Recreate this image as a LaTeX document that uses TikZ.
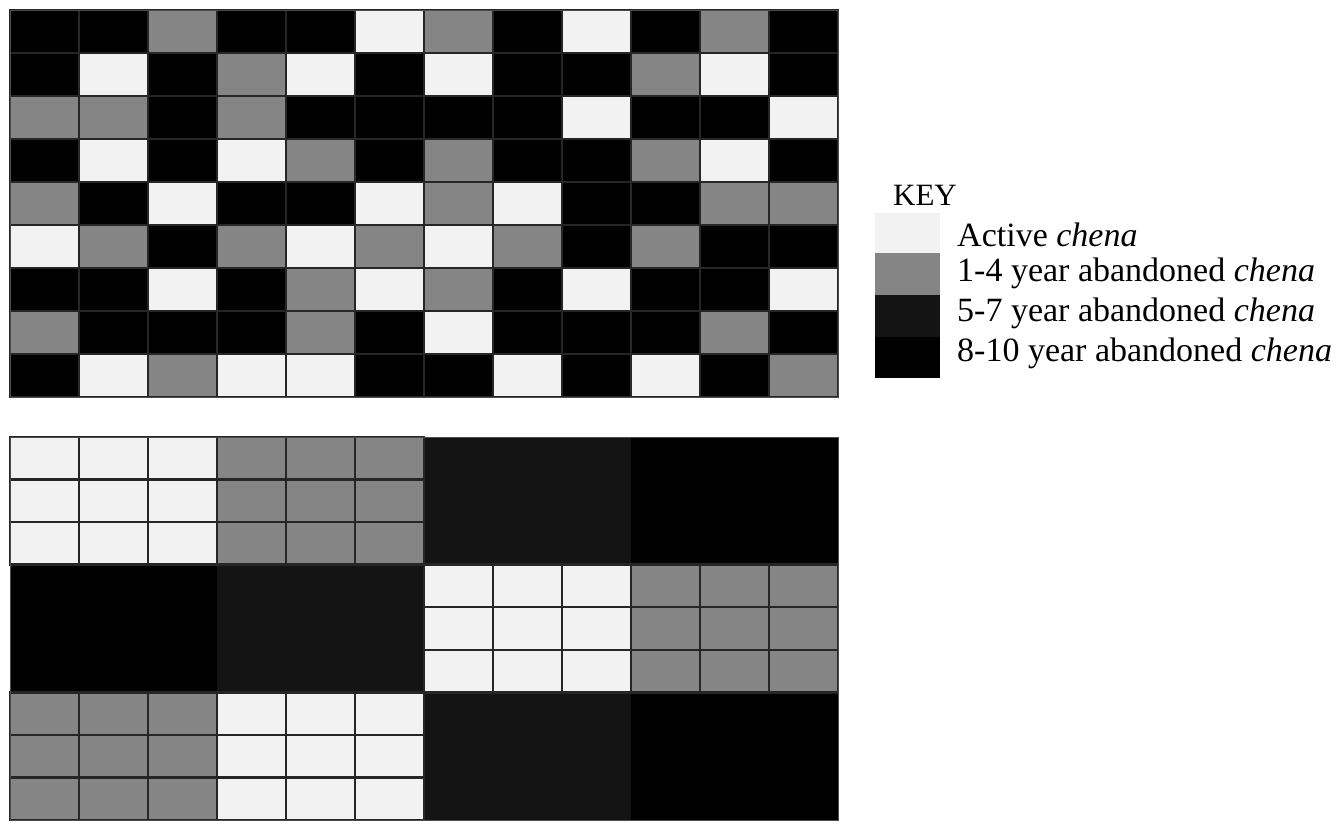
\documentclass[tikz,border=0pt]{standalone}
\usepackage{fontspec}
\setmainfont{Liberation Serif}
\definecolor{cW}{HTML}{F2F2F2}
\definecolor{cG}{HTML}{858585}
\definecolor{cD}{HTML}{141414}
\definecolor{cB}{HTML}{000000}
\begin{document}
\begin{tikzpicture}[x=1pt,y=-1pt,
  cell/.style={draw=black!85,line width=1.6pt},
  blockline/.style={draw=black!85,line width=2.4pt},
  keytext/.style={anchor=west,inner sep=0pt,font=\fontsize{34}{34}\selectfont}]
\useasboundingbox[fill=white] (0,0) rectangle (1337,823);
% ---- top grid (random mosaic) ----
\fill[black] (10,10) rectangle (838,397);
\foreach \row [count=\j from 0] in {
  {B,B,G,B,B,W,G,B,W,B,G,B},
  {B,W,B,G,W,B,W,B,B,G,W,B},
  {G,G,B,G,B,B,B,B,W,B,B,W},
  {B,W,B,W,G,B,G,B,B,G,W,B},
  {G,B,W,B,B,W,G,W,B,B,G,G},
  {W,G,B,G,W,G,W,G,B,G,B,B},
  {B,B,W,B,G,W,G,B,W,B,B,W},
  {G,B,B,B,G,B,W,B,B,B,G,B},
  {B,W,G,W,W,B,B,W,B,W,B,G}}{
  \foreach \c [count=\i from 0] in \row {
    \path[cell,fill=c\c] ({10+69*\i},{10+43*\j}) rectangle ({10+69*(\i+1)},{10+43*(\j+1)});
  }
}
\draw[black!70,line width=1pt] (10,10) rectangle (838,397);
% ---- bottom grid (blocks) ----
\foreach \brow [count=\bj from 0] in {{W,G,D,B},{B,D,W,G},{G,W,D,B}}{
  \foreach \b [count=\bi from 0] in \brow {
    \fill[c\b] ({10+207*\bi},{437+127.67*\bj}) rectangle ({10+207*(\bi+1)},{437+127.67*(\bj+1)});
  }
}
% cell lines inside the light blocks
\foreach \bi/\bj in {0/0,1/0,2/1,3/1,0/2,1/2}{
  \foreach \k in {0,1,2}{\foreach \m in {0,1,2}{
    \draw[blockline] ({10+207*\bi+69*\k},{437+127.67*\bj+42.56*\m}) rectangle ++(69,42.56);}}
}
\draw[black!70,line width=1pt] (10,437) rectangle (838,820);
% ---- key ----
\node[anchor=center,inner sep=0pt,font=\fontsize{31}{31}\selectfont] (key) at (925,195) {KEY};
\fill[cW] (875,213) rectangle (940,253);
\fill[cG] (875,253) rectangle (940,295);
\fill[cD] (875,295) rectangle (940,337);
\fill[cB] (875,337) rectangle (940,378);
\node[keytext] (k1) at (957,235) {Active \textit{chena}};
\node[keytext] (k2) at (957,273) {1-4 year abandoned \textit{chena}};
\node[keytext] (k3) at (957,313) {5-7 year abandoned \textit{chena}};
\node[keytext] (k4) at (957,353) {8-10 year abandoned \textit{chena}};
\end{tikzpicture}
\end{document}
